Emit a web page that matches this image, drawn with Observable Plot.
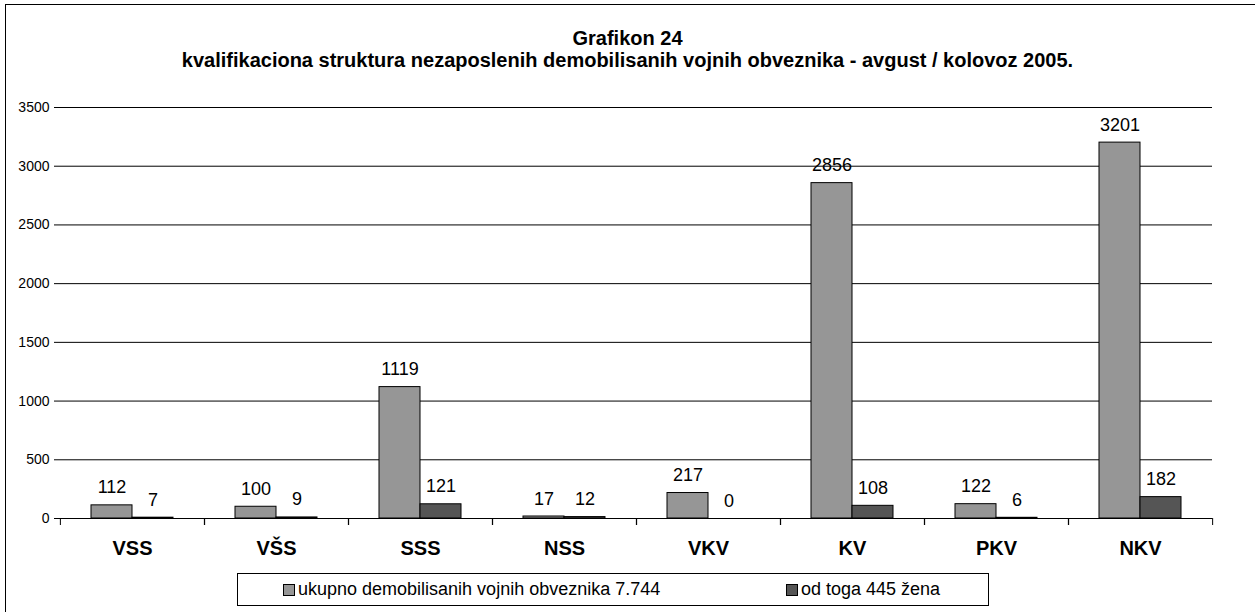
<!DOCTYPE html>
<html>
<head>
<meta charset="utf-8">
<script src="https://cdn.jsdelivr.net/npm/d3@7"></script>
<script src="https://cdn.jsdelivr.net/npm/@observablehq/plot@0.6"></script>
<style>
  html, body { margin: 0; padding: 0; background: #fff; overflow: hidden; width: 1255px; height: 612px; }
  body { font-family: "Liberation Sans", Arial, sans-serif; position: relative; }
  #frame { position: absolute; left: 5px; top: 4px; width: 1400px; height: 800px; border-left: 1.5px solid #000; border-top: 1.5px solid #000; }
  #title { position: absolute; left: 0; top: 0; width: 1255px; text-align: center; font-weight: bold; font-size: 20px; }
  #title div { position: absolute; width: 1255px; text-align: center; }
  #chart { position: absolute; left: 0; top: 82px; }
  #legend { position: absolute; left: 237px; top: 573px; width: 752px; height: 33px; border: 1px solid #000; box-sizing: border-box; font-size: 18px; }
  .item { position: absolute; top: 0; height: 31px; line-height: 31px; white-space: nowrap; }
  .sw { display: inline-block; width: 10px; height: 10px; border: 1px solid #000; margin-right: 3px; vertical-align: -1px; }
</style>
</head>
<body>
<div id="frame"></div>
<div id="title"></div>
<div id="chart"></div>
<div id="legend"></div>
<script>
const titleLines = ["Grafikon 24", "kvalifikaciona struktura nezaposlenih demobilisanih vojnih obveznika - avgust / kolovoz 2005."];
const categories = ["VSS", "VŠS", "SSS", "NSS", "VKV", "KV", "PKV", "NKV"];
const seriesNames = ["ukupno demobilisanih vojnih obveznika 7.744", "od toga 445 žena"];
const totalValues = [112, 100, 1119, 17, 217, 2856, 122, 3201];
const womenValues = [7, 9, 121, 12, 0, 108, 6, 182];
const yTicks = [0, 500, 1000, 1500, 2000, 2500, 3000, 3500];
const seriesColors = ["#969696", "#555555"];

const data = [];
categories.forEach((c, i) => {
  data.push({category: c, series: seriesNames[0], value: totalValues[i]});
  data.push({category: c, series: seriesNames[1], value: womenValues[i]});
});

// Title
const titleEl = document.getElementById("title");
titleLines.forEach((t, i) => {
  const d = document.createElement("div");
  d.textContent = t;
  d.style.top = (i === 0 ? 27 : 49) + "px";
  titleEl.appendChild(d);
});

const W = 1255, H = 480;
const mL = 59, mR = 42;
const bandW = (W - mL - mR) / categories.length;

const chart = Plot.plot({
  width: W,
  height: H,
  marginLeft: mL,
  marginRight: mR,
  marginTop: 25,
  marginBottom: 44,
  style: {fontFamily: "'Liberation Sans', Arial, sans-serif", background: "transparent", overflow: "visible"},
  fx: {domain: categories, padding: 0, label: null},
  x: {domain: seriesNames, paddingInner: 0, paddingOuter: 0.746, axis: null, label: null},
  y: {domain: [0, 3500], axis: null, label: null},
  color: {domain: seriesNames, range: seriesColors},
  marks: [
    Plot.gridY(yTicks, {stroke: "#000", strokeOpacity: 1, strokeWidth: 1}),
    Plot.axisY(yTicks, {tickSize: 0, tickFormat: () => "", line: true, stroke: "#808080", strokeOpacity: 1, label: null}),
    Plot.axisY(yTicks, {tickSize: 6, tickPadding: 5, fontSize: 14, fill: "#000", stroke: "#000", strokeOpacity: 1, tickFormat: d => String(d), label: null}),
    Plot.barY(data, {fx: "category", x: "series", y: "value", fill: "series", stroke: "#000", strokeWidth: 1, insetLeft: 0, insetRight: 0}),
    Plot.text(data, {fx: "category", x: "series", y: "value", text: d => String(d.value), lineAnchor: "bottom", dy: -12, fontSize: 18, fill: "#000"}),
    Plot.axisFx({tickSize: 0, tickPadding: 22, fontSize: 20, fontWeight: "bold", fill: "#000", anchor: "bottom", label: null}),
    Plot.axisFx({tickSize: 7, tickFormat: () => "", dx: -bandW / 2, stroke: "#000", strokeOpacity: 1, anchor: "bottom", label: null}),
    Plot.axisFx(categories.slice(-1), {tickSize: 7, tickFormat: () => "", dx: bandW / 2, stroke: "#000", strokeOpacity: 1, anchor: "bottom", label: null})
  ]
});
document.getElementById("chart").appendChild(chart);

// Legend
const legendEl = document.getElementById("legend");
const legendLefts = [45, 548];
seriesNames.forEach((s, i) => {
  const it = document.createElement("div");
  it.className = "item";
  it.style.left = legendLefts[i] + "px";
  const sw = document.createElement("span");
  sw.className = "sw";
  sw.style.background = seriesColors[i];
  it.appendChild(sw);
  it.appendChild(document.createTextNode(s));
  legendEl.appendChild(it);
});
</script>
</body>
</html>
